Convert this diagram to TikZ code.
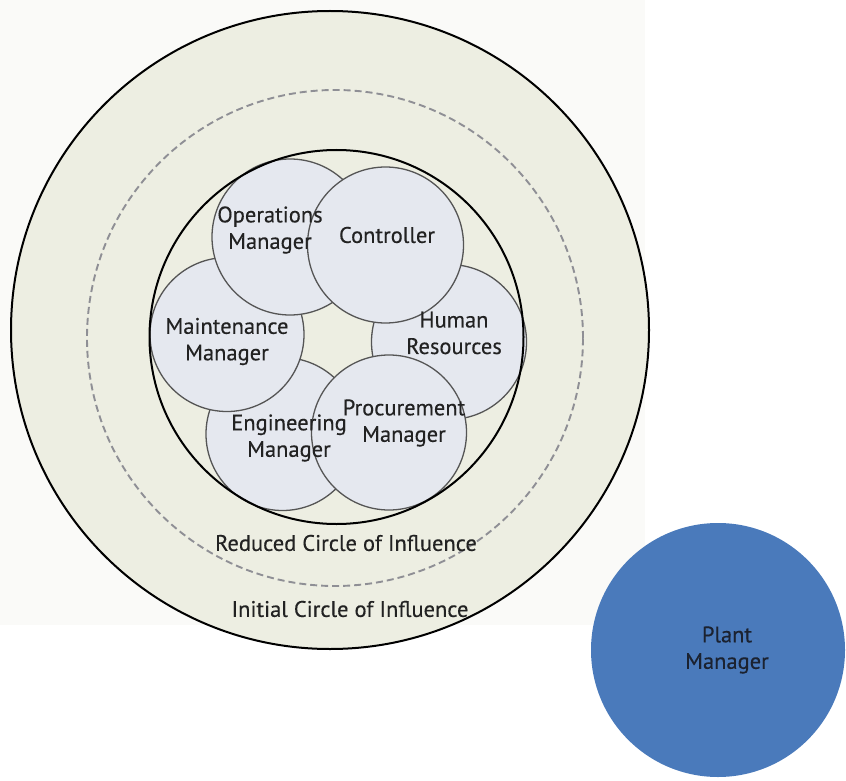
\documentclass[tikz,border=0pt]{standalone}
\usepackage{fontspec}
\setmainfont{PT Sans}[FakeBold=0.3]
\definecolor{beige}{HTML}{EDEEE2}
\definecolor{haze}{HTML}{FAFAF8}
\definecolor{bubble}{HTML}{E5E8EF}
\definecolor{bubbleline}{HTML}{555555}
\definecolor{dashgray}{HTML}{8F8F95}
\definecolor{txt}{HTML}{222222}
\definecolor{plantblue}{HTML}{4A7ABB}
\definecolor{planttxt}{HTML}{1B2230}
\begin{document}
\begin{tikzpicture}[x=1pt,y=-1pt,
  bubblestyle/.style={circle, inner sep=0pt, fill=bubble, draw=bubbleline, line width=1.3pt},
  lbl/.style={align=center, text=txt, inner sep=0pt, font=\fontsize{22.5}{26.5}\selectfont},
  ringstyle/.style={circle, inner sep=0pt, draw=black, line width=2pt}]
\useasboundingbox (0,0) rectangle (846,781);
\fill[haze] (0,0) rectangle (645,625);
% outer and dashed rings
\node[ringstyle, fill=beige, minimum size=638pt] (outer) at (330,330) {};
\node[circle, inner sep=0pt, draw=dashgray, line width=1.9pt, dash pattern=on 7pt off 4pt, minimum size=496pt] (dashed) at (335,338) {};
% bubbles (drawing order matters)
\node[bubblestyle, minimum size=153pt] (eng) at (282.5,434) {};
\node[bubblestyle, minimum size=155pt] (hr) at (449,342) {};
\node[bubblestyle, minimum size=154pt] (mnt) at (227,334.5) {};
\node[bubblestyle, minimum size=156pt] (ops) at (290,237) {};
\node[bubblestyle, minimum size=156pt] (ctl) at (385.5,245) {};
\node[bubblestyle, minimum size=155pt] (prc) at (389,432.5) {};
% inner ring
\node[ringstyle, minimum size=374pt] (inner) at (336.5,337) {};
% labels
\node[lbl] (opsl) at (270,230) {Operations\\Manager};
\node[lbl] (ctll) at (387,235) {Controller};
\node[lbl] (hrl) at (454,333) {Human\\Resources};
\node[lbl] (mntl) at (227,341.5) {Maintenance\\Manager};
\node[lbl] (engl) at (289,438) {Engineering\\Manager};
\node[lbl] (prcl) at (404,423) {Procurement\\Manager};
\node[lbl] (redl) at (346,543) {Reduced Circle of Influence};
\node[lbl] (inil) at (350,609) {Initial Circle of Influence};
% plant manager
\node[circle, inner sep=0pt, fill=plantblue, minimum size=254pt] (plant) at (718,650) {};
\node[lbl, text=planttxt] (plantl) at (727,650) {Plant\\Manager};
\end{tikzpicture}
\end{document}
